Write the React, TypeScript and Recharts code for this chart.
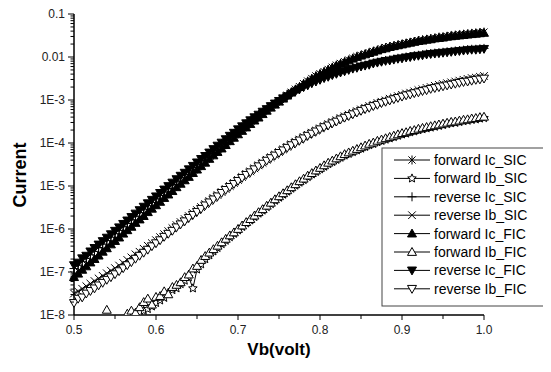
import React from 'react';
import { LineChart, Line, XAxis, YAxis } from 'recharts';

// Base voltage (V)
const vb = [
  0.5, 0.505, 0.51, 0.515, 0.52, 0.525, 0.53, 0.535, 0.54, 0.545,
  0.55, 0.555, 0.56, 0.565, 0.57, 0.575, 0.58, 0.585, 0.59, 0.595,
  0.6, 0.605, 0.61, 0.615, 0.62, 0.625, 0.63, 0.635, 0.64, 0.645,
  0.65, 0.655, 0.66, 0.665, 0.67, 0.675, 0.68, 0.685, 0.69, 0.695,
  0.7, 0.705, 0.71, 0.715, 0.72, 0.725, 0.73, 0.735, 0.74, 0.745,
  0.75, 0.755, 0.76, 0.765, 0.77, 0.775, 0.78, 0.785, 0.79, 0.795,
  0.8, 0.805, 0.81, 0.815, 0.82, 0.825, 0.83, 0.835, 0.84, 0.845,
  0.85, 0.855, 0.86, 0.865, 0.87, 0.875, 0.88, 0.885, 0.89, 0.895,
  0.9, 0.905, 0.91, 0.915, 0.92, 0.925, 0.93, 0.935, 0.94, 0.945,
  0.95, 0.955, 0.96, 0.965, 0.97, 0.975, 0.98, 0.985, 0.99, 0.995,
  1.0,
];

// log10 of the current (A)
const forwardIcSIC = [
  -7.06, -6.98, -6.9, -6.82, -6.73, -6.65, -6.57, -6.49, -6.4, -6.32,
  -6.24, -6.16, -6.08, -5.99, -5.91, -5.83, -5.75, -5.67, -5.58, -5.5,
  -5.42, -5.34, -5.26, -5.18, -5.1, -5.01, -4.93, -4.85, -4.77, -4.69,
  -4.61, -4.53, -4.44, -4.36, -4.28, -4.2, -4.12, -4.04, -3.95, -3.87,
  -3.79, -3.71, -3.63, -3.55, -3.47, -3.4, -3.32, -3.24, -3.17, -3.1,
  -3.03, -2.96, -2.89, -2.82, -2.75, -2.69, -2.62, -2.56, -2.5, -2.44,
  -2.39, -2.34, -2.29, -2.24, -2.19, -2.15, -2.11, -2.07, -2.03, -1.99,
  -1.96, -1.93, -1.9, -1.87, -1.84, -1.81, -1.78, -1.76, -1.74, -1.72,
  -1.7, -1.68, -1.66, -1.64, -1.62, -1.6, -1.59, -1.57, -1.56, -1.54,
  -1.53, -1.52, -1.5, -1.49, -1.48, -1.47, -1.46, -1.45, -1.44, -1.43,
  -1.42,
];

const forwardIbSIC = [
  null, null, null, null, null, null, null, null, null, null,
  null, null, null, null, -7.98, -7.96, -7.94, -7.9, -7.86, -7.8,
  -7.72, -7.66, -7.6, -7.48, -7.42, -7.38, -7.28, -7.2, -7.12, -7.38,
  -6.94, -6.82, -6.7, -6.61, -6.52, -6.44, -6.35, -6.27, -6.19, -6.11,
  -6.03, -5.95, -5.87, -5.8, -5.72, -5.64, -5.57, -5.49, -5.42, -5.34,
  -5.27, -5.2, -5.13, -5.06, -4.99, -4.92, -4.86, -4.79, -4.73, -4.67,
  -4.61, -4.55, -4.49, -4.44, -4.39, -4.34, -4.29, -4.25, -4.21, -4.17,
  -4.13, -4.09, -4.05, -4.02, -3.98, -3.95, -3.92, -3.89, -3.86, -3.83,
  -3.8, -3.78, -3.75, -3.73, -3.7, -3.68, -3.66, -3.64, -3.62, -3.6,
  -3.58, -3.56, -3.54, -3.53, -3.51, -3.49, -3.48, -3.46, -3.45, -3.43,
  -3.42,
];

const reverseIcSIC = [
  -6.92, -6.84, -6.76, -6.68, -6.6, -6.52, -6.43, -6.35, -6.27, -6.19,
  -6.11, -6.03, -5.95, -5.87, -5.79, -5.7, -5.62, -5.54, -5.46, -5.38,
  -5.3, -5.22, -5.14, -5.06, -4.97, -4.89, -4.81, -4.73, -4.65, -4.57,
  -4.49, -4.41, -4.33, -4.25, -4.17, -4.09, -4.01, -3.93, -3.85, -3.78,
  -3.7, -3.62, -3.55, -3.48, -3.41, -3.34, -3.28, -3.21, -3.15, -3.08,
  -3.02, -2.96, -2.9, -2.85, -2.79, -2.74, -2.69, -2.65, -2.6, -2.56,
  -2.52, -2.48, -2.45, -2.41, -2.38, -2.35, -2.32, -2.29, -2.26, -2.24,
  -2.21, -2.19, -2.17, -2.14, -2.12, -2.1, -2.08, -2.07, -2.05, -2.03,
  -2.02, -2.0, -1.99, -1.97, -1.96, -1.95, -1.93, -1.92, -1.91, -1.9,
  -1.89, -1.88, -1.87, -1.86, -1.85, -1.84, -1.83, -1.82, -1.82, -1.81,
  -1.8,
];

const reverseIbSIC = [
  -7.5, -7.45, -7.39, -7.33, -7.27, -7.21, -7.15, -7.09, -7.03, -6.97,
  -6.91, -6.85, -6.79, -6.72, -6.66, -6.59, -6.53, -6.46, -6.39, -6.33,
  -6.26, -6.19, -6.12, -6.05, -5.98, -5.91, -5.84, -5.77, -5.7, -5.63,
  -5.56, -5.49, -5.42, -5.35, -5.28, -5.21, -5.14, -5.07, -5.0, -4.93,
  -4.86, -4.79, -4.72, -4.66, -4.59, -4.52, -4.46, -4.39, -4.33, -4.27,
  -4.21, -4.15, -4.09, -4.03, -3.97, -3.92, -3.86, -3.81, -3.76, -3.71,
  -3.66, -3.61, -3.56, -3.51, -3.47, -3.42, -3.38, -3.34, -3.3, -3.26,
  -3.22, -3.18, -3.14, -3.11, -3.07, -3.04, -3.01, -2.97, -2.94, -2.91,
  -2.88, -2.85, -2.83, -2.8, -2.77, -2.75, -2.72, -2.7, -2.67, -2.65,
  -2.63, -2.61, -2.59, -2.57, -2.55, -2.53, -2.51, -2.49, -2.48, -2.46,
  -2.44,
];

const forwardIcFIC = [
  -7.12, -7.04, -6.95, -6.87, -6.78, -6.7, -6.62, -6.53, -6.45, -6.36,
  -6.28, -6.2, -6.11, -6.03, -5.95, -5.86, -5.78, -5.7, -5.61, -5.53,
  -5.45, -5.37, -5.28, -5.2, -5.12, -5.03, -4.95, -4.87, -4.79, -4.7,
  -4.62, -4.54, -4.46, -4.37, -4.29, -4.21, -4.13, -4.05, -3.96, -3.88,
  -3.8, -3.72, -3.64, -3.56, -3.48, -3.41, -3.33, -3.25, -3.18, -3.11,
  -3.04, -2.97, -2.9, -2.83, -2.76, -2.7, -2.63, -2.57, -2.51, -2.45,
  -2.4, -2.35, -2.3, -2.25, -2.2, -2.16, -2.12, -2.08, -2.04, -2.0,
  -1.97, -1.94, -1.91, -1.88, -1.85, -1.82, -1.8, -1.77, -1.75, -1.73,
  -1.71, -1.69, -1.67, -1.65, -1.63, -1.62, -1.6, -1.59, -1.57, -1.56,
  -1.55, -1.53, -1.52, -1.51, -1.5, -1.49, -1.48, -1.47, -1.46, -1.45,
  -1.44,
];

const forwardIbFIC = [
  null, null, null, null, null, null, null, null, -7.88, null,
  null, null, null, -7.97, -7.9, -7.95, -7.82, -7.7, -7.62, -7.76,
  -7.58, -7.56, -7.45, -7.52, -7.35, -7.3, -7.24, -7.12, -7.06, -6.92,
  -6.86, -6.72, -6.63, -6.55, -6.47, -6.39, -6.31, -6.23, -6.15, -6.08,
  -6.0, -5.92, -5.84, -5.77, -5.69, -5.61, -5.54, -5.46, -5.39, -5.31,
  -5.24, -5.17, -5.1, -5.03, -4.96, -4.89, -4.83, -4.76, -4.7, -4.64,
  -4.58, -4.52, -4.46, -4.41, -4.36, -4.31, -4.26, -4.22, -4.18, -4.14,
  -4.1, -4.06, -4.02, -3.99, -3.95, -3.92, -3.89, -3.86, -3.83, -3.8,
  -3.77, -3.75, -3.72, -3.7, -3.67, -3.65, -3.63, -3.61, -3.59, -3.57,
  -3.55, -3.53, -3.51, -3.5, -3.48, -3.46, -3.45, -3.43, -3.42, -3.4,
  -3.39,
];

const reverseIcFIC = [
  -6.84, -6.78, -6.68, -6.62, -6.52, -6.44, -6.36, -6.28, -6.2, -6.12,
  -6.04, -5.96, -5.88, -5.8, -5.72, -5.64, -5.56, -5.48, -5.4, -5.32,
  -5.24, -5.16, -5.08, -5.0, -4.92, -4.84, -4.76, -4.69, -4.61, -4.53,
  -4.45, -4.37, -4.3, -4.22, -4.14, -4.06, -3.99, -3.91, -3.83, -3.76,
  -3.68, -3.61, -3.54, -3.47, -3.4, -3.34, -3.27, -3.21, -3.14, -3.08,
  -3.02, -2.96, -2.91, -2.85, -2.8, -2.75, -2.7, -2.66, -2.61, -2.57,
  -2.53, -2.49, -2.46, -2.42, -2.39, -2.36, -2.33, -2.3, -2.27, -2.25,
  -2.22, -2.2, -2.18, -2.15, -2.13, -2.11, -2.09, -2.08, -2.06, -2.04,
  -2.03, -2.01, -2.0, -1.98, -1.97, -1.96, -1.94, -1.93, -1.92, -1.91,
  -1.9, -1.89, -1.88, -1.87, -1.86, -1.85, -1.84, -1.83, -1.83, -1.82,
  -1.81,
];

const reverseIbFIC = [
  -7.72, -7.62, -7.59, -7.5, -7.44, -7.38, -7.31, -7.25, -7.18, -7.12,
  -7.05, -6.98, -6.91, -6.84, -6.77, -6.69, -6.62, -6.55, -6.48, -6.4,
  -6.33, -6.26, -6.18, -6.11, -6.04, -5.96, -5.89, -5.82, -5.74, -5.67,
  -5.6, -5.53, -5.45, -5.38, -5.31, -5.24, -5.16, -5.09, -5.02, -4.95,
  -4.88, -4.81, -4.74, -4.68, -4.61, -4.54, -4.48, -4.41, -4.35, -4.29,
  -4.23, -4.17, -4.11, -4.05, -4.0, -3.94, -3.89, -3.83, -3.78, -3.73,
  -3.68, -3.63, -3.59, -3.54, -3.5, -3.45, -3.41, -3.37, -3.33, -3.29,
  -3.25, -3.21, -3.18, -3.14, -3.11, -3.07, -3.04, -3.01, -2.98, -2.95,
  -2.92, -2.89, -2.87, -2.84, -2.82, -2.79, -2.77, -2.74, -2.72, -2.7,
  -2.68, -2.66, -2.64, -2.62, -2.6, -2.58, -2.57, -2.55, -2.53, -2.52,
  -2.5,
];

const seriesNames = [
  'forward Ic_SIC', 'forward Ib_SIC', 'reverse Ic_SIC', 'reverse Ib_SIC',
  'forward Ic_FIC', 'forward Ib_FIC', 'reverse Ic_FIC', 'reverse Ib_FIC',
];
const seriesShapes = ['asterisk', 'star', 'plus', 'cross', 'triUp', 'triUpOpen', 'triDown', 'triDownOpen'];
const seriesLogs = [
  forwardIcSIC, forwardIbSIC, reverseIcSIC, reverseIbSIC,
  forwardIcFIC, forwardIbFIC, reverseIcFIC, reverseIbFIC,
];

const xTicks = [0.5, 0.55, 0.6, 0.65, 0.7, 0.75, 0.8, 0.85, 0.9, 0.95, 1.0];
const xMajorTicks = [0.5, 0.6, 0.7, 0.8, 0.9, 1.0];
const xTickLabels = ['0.5', '0.6', '0.7', '0.8', '0.9', '1.0'];
const yMajorTicks = [1e-8, 1e-7, 1e-6, 1e-5, 1e-4, 1e-3, 1e-2, 1e-1];
const yTickLabels = ['1E-8', '1E-7', '1E-6', '1E-5', '1E-4', '1E-3', '0.01', '0.1'];
const yMinorMultipliers = [2, 3, 4, 5, 6, 7, 8, 9];

const yTicks: number[] = [];
yMajorTicks.forEach((m, i) => {
  yTicks.push(m);
  if (i < yMajorTicks.length - 1) yMinorMultipliers.forEach((k) => yTicks.push(m * k));
});

const data = vb.map((v, i) => {
  const row: Record<string, number | null> = { vb: v };
  seriesLogs.forEach((arr, s) => {
    const l = arr[i];
    row['s' + s] = l == null ? null : Math.pow(10, l);
  });
  return row;
});

// layout (chart coordinates)
const W = 543;
const H = 355;
const PL = 66;
const PT = 6;
const PR = 476;
const PB = 307;
const FONT = 'Arial, "Liberation Sans", sans-serif';

function Marker({ shape, cx, cy }: { shape: string; cx: number; cy: number }) {
  const r = 4.5;
  const s = { stroke: '#000', strokeWidth: 1 };
  switch (shape) {
    case 'asterisk':
      return (
        <g {...s}>
          <line x1={cx} y1={cy - r} x2={cx} y2={cy + r} />
          <line x1={cx - r * 0.8} y1={cy - r * 0.8} x2={cx + r * 0.8} y2={cy + r * 0.8} />
          <line x1={cx - r * 0.8} y1={cy + r * 0.8} x2={cx + r * 0.8} y2={cy - r * 0.8} />
        </g>
      );
    case 'plus':
      return (
        <g {...s}>
          <line x1={cx} y1={cy - r} x2={cx} y2={cy + r} />
          <line x1={cx - r} y1={cy} x2={cx + r} y2={cy} />
        </g>
      );
    case 'cross':
      return (
        <g {...s}>
          <line x1={cx - r * 0.85} y1={cy - r * 0.85} x2={cx + r * 0.85} y2={cy + r * 0.85} />
          <line x1={cx - r * 0.85} y1={cy + r * 0.85} x2={cx + r * 0.85} y2={cy - r * 0.85} />
        </g>
      );
    case 'star': {
      const pts: string[] = [];
      for (let k = 0; k < 10; k++) {
        const a = -Math.PI / 2 + (k * Math.PI) / 5;
        const rr = k % 2 === 0 ? r : r * 0.45;
        pts.push(`${cx + rr * Math.cos(a)},${cy + rr * Math.sin(a)}`);
      }
      return <polygon points={pts.join(' ')} fill="#fff" {...s} />;
    }
    case 'triUp':
    case 'triUpOpen':
      return (
        <polygon
          points={`${cx},${cy - r} ${cx - r},${cy + r * 0.75} ${cx + r},${cy + r * 0.75}`}
          fill={shape === 'triUp' ? '#000' : '#fff'}
          {...s}
        />
      );
    case 'triDown':
    case 'triDownOpen':
    default:
      return (
        <polygon
          points={`${cx},${cy + r} ${cx - r},${cy - r * 0.75} ${cx + r},${cy - r * 0.75}`}
          fill={shape === 'triDown' ? '#000' : '#fff'}
          {...s}
        />
      );
  }
}

const YTick = (props: any) => {
  const { y, payload } = props;
  const v = payload.value;
  const idx = yMajorTicks.findIndex((m) => Math.abs(Math.log10(m) - Math.log10(v)) < 1e-6);
  const major = idx >= 0;
  return (
    <g>
      <line x1={PL - (major ? 6 : 3.5)} x2={PL} y1={y} y2={y} stroke="#000" strokeWidth={1} />
      {major && (
        <text x={PL - 9} y={y} dy="0.36em" textAnchor="end" fontFamily={FONT} fontSize={12} fill="#222">
          {yTickLabels[idx]}
        </text>
      )}
    </g>
  );
};

const XTick = (props: any) => {
  const { x, payload } = props;
  const v = payload.value;
  const idx = xMajorTicks.findIndex((m) => Math.abs(m - v) < 1e-6);
  const major = idx >= 0;
  return (
    <g>
      <line x1={x} x2={x} y1={PB} y2={PB + (major ? 5 : 4)} stroke="#000" strokeWidth={1} />
      {major && (
        <text x={x} y={PB + 15} dy="0.36em" textAnchor="middle" fontFamily={FONT} fontSize={12} fill="#222">
          {xTickLabels[idx]}
        </text>
      )}
    </g>
  );
};

const LEG_X = 374;
const LEG_Y = 140;
const LEG_W = 167;
const LEG_H = 158;
const LEG_ROW0 = 152;
const LEG_DY = 18.4;

export default function App() {
  return (
    <LineChart
      width={W}
      height={H}
      data={data}
      margin={{ top: PT, right: W - PR, bottom: H - PB - 30, left: 0 }}
    >
      <XAxis
        dataKey="vb"
        type="number"
        domain={[0.5, 1.0]}
        ticks={xTicks}
        interval={0}
        tickLine={false}
        tick={<XTick />}
        height={30}
        axisLine={{ stroke: '#000', strokeWidth: 1.5 }}
      />
      <YAxis
        type="number"
        scale="log"
        domain={[1e-8, 0.1]}
        allowDataOverflow
        ticks={yTicks}
        interval={0}
        tickLine={false}
        tick={<YTick />}
        width={PL}
        axisLine={{ stroke: '#000', strokeWidth: 1.5 }}
      />
      {seriesNames.map((name, s) => (
        <Line
          key={name}
          name={name}
          dataKey={'s' + s}
          type="linear"
          stroke="#000"
          strokeWidth={1}
          isAnimationActive={false}
          connectNulls={false}
          activeDot={false}
          dot={(p: any) =>
            p.cx == null || p.cy == null || p.value == null ? (
              <g key={'d' + s + '-' + p.index} />
            ) : (
              <g key={'d' + s + '-' + p.index}>
                <Marker shape={seriesShapes[s]} cx={p.cx} cy={p.cy} />
              </g>
            )
          }
        />
      ))}
      <text
        x={(PL + PR) / 2}
        y={347}
        textAnchor="middle"
        fontFamily={FONT}
        fontWeight="bold"
        fontSize={17}
        fill="#000"
      >
        Vb(volt)
      </text>
      <text
        x={0}
        y={0}
        transform={`translate(18, 167) rotate(-90)`}
        textAnchor="middle"
        fontFamily={FONT}
        fontWeight="bold"
        fontSize={18}
        fill="#000"
      >
        Current
      </text>
      <g>
        <rect x={LEG_X} y={LEG_Y} width={LEG_W} height={LEG_H} fill="#fff" stroke="#444" strokeWidth={1} />
        {seriesNames.map((name, s) => {
          const y = LEG_ROW0 + s * LEG_DY;
          return (
            <g key={'leg' + s}>
              <line x1={LEG_X + 12} x2={LEG_X + 48} y1={y} y2={y} stroke="#000" strokeWidth={1} />
              <Marker shape={seriesShapes[s]} cx={LEG_X + 30} cy={y} />
              <text x={LEG_X + 52} y={y} dy="0.36em" fontFamily={FONT} fontSize={14} fill="#000">
                {name}
              </text>
            </g>
          );
        })}
      </g>
    </LineChart>
  );
}
